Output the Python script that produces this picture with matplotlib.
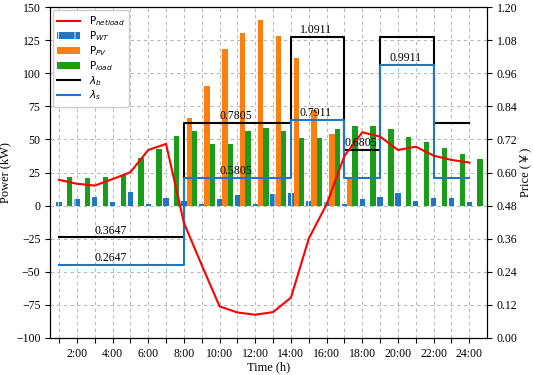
import matplotlib
matplotlib.use("Agg")
import matplotlib.pyplot as plt
import numpy as np

hours = list(range(1, 25))
p_wt = [3.0, 5.0, 6.8, 3.0, 10.1, 1.3, 5.5, 3.5, 1.3, 5.0, 7.8, 1.3,
        8.6, 9.3, 3.8, 3.0, 1.3, 5.0, 6.3, 9.3, 3.8, 6.0, 5.5, 3.0]
p_pv = [0, 0, 0, 0, 0, 0, 0, 66.0, 90.3, 118.3, 130.3, 140.2,
        128.3, 111.2, 72.2, 54.1, 21.9, 0, 0, 0, 0, 0, 0, 0]
p_load = [21.9, 21.2, 21.7, 23.2, 35.8, 42.8, 52.6, 56.4, 46.6, 46.9, 56.6, 58.4,
          56.4, 50.8, 50.8, 57.9, 60.2, 60.4, 57.6, 51.8, 48.1, 43.8, 39.3, 35.5]
p_netload = [19.4, 16.5, 15.1, 20.0, 25.2, 42.0, 46.6, -13.0, -45.0, -76.2, -80.8, -82.5,
             -80.5, -69.6, -25.0, 1.0, 37.5, 55.4, 52.1, 42.0, 44.5, 37.7, 34.5, 32.5]
lam_b = [0.3647] * 7 + [0.7805] * 6 + [1.0911] * 3 + [0.6805] * 2 + [1.0911] * 3 + [0.7805] * 3
lam_s = [0.2647] * 7 + [0.5805] * 6 + [0.7911] * 3 + [0.5805] * 2 + [0.9911] * 3 + [0.5805] * 3

labels_b = [("0.3647", 3.9, 0.3647), ("0.7805", 10.9, 0.7805), ("1.0911", 15.4, 1.0911),
            ("0.6805", 17.9, 0.6805)]
labels_s = [("0.2647", 3.9, 0.2647), ("0.5805", 10.9, 0.5805), ("0.7911", 15.4, 0.7911),
            ("0.9911", 20.4, 0.9911)]
xtick_labels = ["" if h % 2 else f"{h}:00" for h in hours]

serif = ["Liberation Serif", "Noto Sans CJK SC"]
plt.rcParams["hatch.linewidth"] = 0.6

fig = plt.figure(figsize=(5.33, 3.75), dpi=100)
ax = fig.add_axes([0.094, 0.099, 0.820, 0.882])
ax2 = ax.twinx()

x = np.array(hours, dtype=float)
w = 0.3
c_blue = "#1f77c4"
c_orange = "#ff7f0e"
c_green = "#1a9e1a"

b_wt = ax.bar(x, p_wt, width=w, color=c_blue, hatch="|", edgecolor="white",
              linewidth=0, label=r"P$_{WT}$")
b_pv = ax.bar(x + w, p_pv, width=w, color=c_orange, linewidth=0, label=r"P$_{PV}$")
b_ld = ax.bar(x + 2 * w, p_load, width=w, color=c_green, linewidth=0, label=r"P$_{load}$")

ax.set_xlim(0.5, 25.0)
ax.set_ylim(-100, 150)
ax.set_yticks(np.arange(-100, 151, 25))
ax.set_xticks(hours)
ax.set_xticklabels(xtick_labels)
ax.grid(True, linestyle=(0, (3, 3)), color="#b8b8b8", linewidth=0.8)
ax.set_axisbelow(True)

ax2.set_ylim(0, 1.2)
ax2.set_yticks(np.arange(0, 1.21, 0.12))
ax2.set_yticklabels([f"{v:.2f}" for v in np.arange(0, 1.21, 0.12)])

l_b, = ax2.step(x, lam_b, where="post", color="black", linewidth=1.5, label=r"$\lambda_b$")
l_s, = ax2.step(x, lam_s, where="post", color=c_blue, linewidth=1.5, label=r"$\lambda_s$")
l_n, = ax2.plot(x, p_netload, color="red", linewidth=1.5, transform=ax.transData,
                label=r"P$_{netload}$")

for txt, xp, yp in labels_b + labels_s:
    ax2.text(xp, yp + 0.003, txt, ha="center", va="bottom", fontsize=8.5, family=serif)

for a in (ax, ax2):
    for lab in a.get_xticklabels() + a.get_yticklabels():
        lab.set_family(serif)
        lab.set_fontsize(8.5)

ax.set_ylabel("Power (kW)", family=serif, fontsize=9, labelpad=3)
ax.set_xlabel("Time (h)", family=serif, fontsize=9, labelpad=1)
ax2.set_ylabel("Price (￥)", family=serif, fontsize=9, labelpad=1)

ax2.legend([l_n, b_wt, b_pv, b_ld, l_b, l_s],
           [r"P$_{netload}$", r"P$_{WT}$", r"P$_{PV}$", r"P$_{load}$", r"$\lambda_b$", r"$\lambda_s$"],
           loc="upper left", fontsize=7.5, handlelength=2.2, framealpha=1,
           borderaxespad=0.3, labelspacing=0.1, borderpad=0.4)

fig.savefig("out.png", dpi=100)
